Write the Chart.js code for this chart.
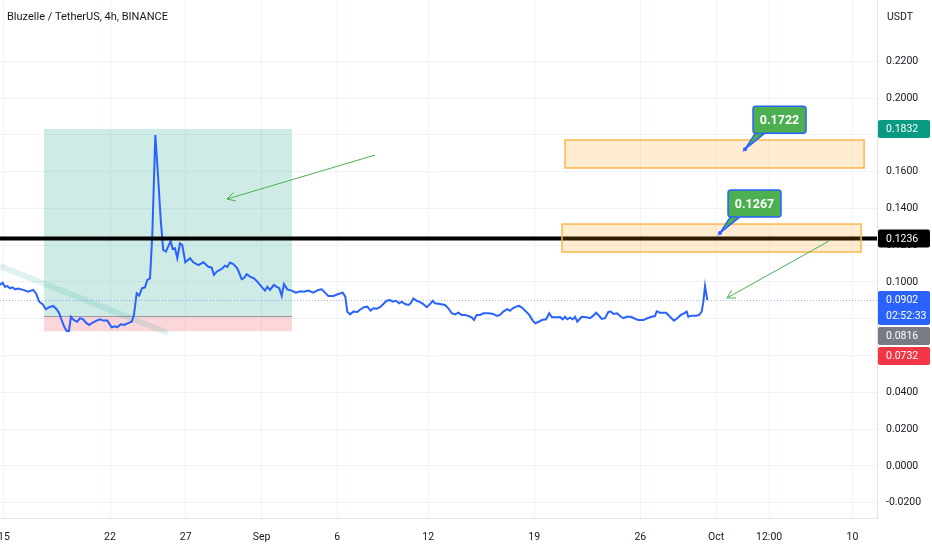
<!DOCTYPE html>
<html>
<head>
<meta charset="utf-8">
<title>Bluzelle / TetherUS, 4h, BINANCE</title>
<script src="https://cdn.jsdelivr.net/npm/chart.js@4.4.1/dist/chart.umd.min.js"></script>
<style>
  html, body { margin: 0; padding: 0; background: #ffffff; }
  #wrap { position: relative; width: 932px; height: 550px; }
</style>
</head>
<body>
<div id="wrap">
  <canvas id="priceChart" width="932" height="550"></canvas>
</div>
<script>
/* =====================================
   Data
===================================== */

// x positions are days counted from Aug 15
const dayTicks = [0, 7, 12, 17, 22, 28, 35, 42, 47, 50.5, 56];
const dayLabels = ["15", "22", "27", "Sep", "6", "12", "19", "26", "Oct", "12:00", "10"];

const priceTicks = [-0.02, 0, 0.02, 0.04, 0.06, 0.08, 0.10, 0.12, 0.14, 0.16, 0.18, 0.20, 0.22];

const priceDays = [
  -0.26, -0.09, 0.07, 0.22, 0.40, 0.57, 0.73, 0.94, 1.27, 1.60,
  1.93, 2.11, 2.33, 2.55, 2.77, 2.99, 3.25, 3.48, 3.65, 3.81,
  3.98, 4.14, 4.29, 4.42, 4.62, 4.84, 5.02, 5.23, 5.41, 5.63,
  5.85, 6.12, 6.34, 6.55, 6.82, 7.11, 7.33, 7.48, 7.70, 7.92,
  8.20, 8.43, 8.58, 8.76, 8.93, 9.11, 9.31, 9.46, 9.64, 9.79,
  9.99, 10.18, 10.34, 10.51, 10.69, 10.84, 11.00, 11.14, 11.29, 11.44,
  11.62, 11.77, 11.97, 12.28, 12.50, 12.83, 13.16, 13.49, 13.71, 13.86,
  14.04, 14.37, 14.59, 14.74, 14.92, 15.14, 15.36, 15.47, 15.69, 15.84,
  16.02, 16.24, 16.50, 16.72, 17.01, 17.23, 17.38, 17.56, 17.82, 18.00,
  18.17, 18.33, 18.48, 18.70, 18.99, 19.27, 19.54, 19.80, 20.09, 20.42,
  20.75, 20.97, 21.19, 21.41, 21.74, 22.07, 22.36, 22.53, 22.66, 22.84,
  23.06, 23.32, 23.54, 23.76, 23.98, 24.20, 24.38, 24.60, 24.82, 25.04,
  25.26, 25.48, 25.66, 25.87, 26.09, 26.25, 26.47, 26.69, 26.84, 27.02,
  27.24, 27.46, 27.68, 27.90, 28.12, 28.30, 28.45, 28.78, 29.11, 29.33,
  29.55, 29.77, 29.99, 30.21, 30.43, 30.65, 30.87, 31.02, 31.20, 31.42,
  31.64, 31.97, 32.30, 32.52, 32.74, 32.96, 33.22, 33.40, 33.58, 33.80,
  34.01, 34.24, 34.46, 34.67, 34.90, 35.07, 35.29, 35.51, 35.78, 35.99,
  36.17, 36.44, 36.70, 36.88, 37.03, 37.18, 37.36, 37.54, 37.69, 37.84,
  38.13, 38.46, 38.68, 38.90, 39.08, 39.23, 39.45, 39.67, 39.89, 40.05,
  40.22, 40.48, 40.66, 40.88, 41.10, 41.37, 41.58, 41.87, 42.20, 42.46,
  42.75, 42.97, 43.08, 43.30, 43.70, 43.96, 44.22, 44.44, 44.67, 44.88,
  45.06, 45.17, 45.39, 45.68, 45.89, 46.05, 46.16, 46.27, 46.42
];

const priceValues = [
  0.0984, 0.0996, 0.0974, 0.0978, 0.0966, 0.0971, 0.0960, 0.0964, 0.0957, 0.0947,
  0.0957, 0.0939, 0.0893, 0.0879, 0.0852, 0.0863, 0.0870, 0.0852, 0.0830, 0.0793,
  0.0757, 0.0734, 0.0734, 0.0811, 0.0793, 0.0784, 0.0803, 0.0797, 0.0779, 0.0766,
  0.0779, 0.0790, 0.0797, 0.0790, 0.0790, 0.0754, 0.0759, 0.0754, 0.0770, 0.0766,
  0.0776, 0.0784, 0.0821, 0.0939, 0.0926, 0.0966, 0.0971, 0.1011, 0.1020, 0.1255,
  0.1799, 0.1564, 0.1346, 0.1174, 0.1165, 0.1192, 0.1223, 0.1179, 0.1183, 0.1129,
  0.1210, 0.1201, 0.1107, 0.1129, 0.1107, 0.1092, 0.1107, 0.1083, 0.1078, 0.1038,
  0.1056, 0.1071, 0.1089, 0.1082, 0.1106, 0.1098, 0.1078, 0.1061, 0.1015, 0.1020,
  0.1043, 0.1029, 0.1020, 0.1002, 0.0974, 0.0953, 0.0974, 0.0957, 0.0984, 0.0974,
  0.0966, 0.0924, 0.0989, 0.0960, 0.0953, 0.0942, 0.0949, 0.0947, 0.0953, 0.0942,
  0.0957, 0.0960, 0.0942, 0.0924, 0.0924, 0.0935, 0.0942, 0.0920, 0.0839, 0.0824,
  0.0839, 0.0837, 0.0852, 0.0863, 0.0866, 0.0844, 0.0857, 0.0855, 0.0863, 0.0880,
  0.0898, 0.0902, 0.0893, 0.0898, 0.0884, 0.0893, 0.0880, 0.0875, 0.0884, 0.0911,
  0.0898, 0.0891, 0.0880, 0.0863, 0.0880, 0.0898, 0.0884, 0.0880, 0.0875, 0.0857,
  0.0830, 0.0824, 0.0833, 0.0821, 0.0821, 0.0815, 0.0808, 0.0793, 0.0821, 0.0821,
  0.0830, 0.0830, 0.0826, 0.0815, 0.0821, 0.0839, 0.0852, 0.0844, 0.0857, 0.0866,
  0.0870, 0.0857, 0.0839, 0.0821, 0.0790, 0.0776, 0.0784, 0.0793, 0.0797, 0.0830,
  0.0808, 0.0808, 0.0809, 0.0797, 0.0811, 0.0797, 0.0806, 0.0797, 0.0811, 0.0784,
  0.0811, 0.0808, 0.0803, 0.0817, 0.0833, 0.0821, 0.0799, 0.0803, 0.0837, 0.0839,
  0.0826, 0.0830, 0.0815, 0.0803, 0.0811, 0.0811, 0.0803, 0.0793, 0.0793, 0.0803,
  0.0811, 0.0815, 0.0841, 0.0833, 0.0833, 0.0811, 0.0790, 0.0803, 0.0821, 0.0830,
  0.0839, 0.0811, 0.0817, 0.0817, 0.0821, 0.0839, 0.0893, 0.0978, 0.0902
];

// long position tool: target / entry / stop
const tradeDays = [2.64, 19.01];
const tradeLevels = [0.1832, 0.0816, 0.0732];

const supportLevel = 0.1236;
const lastPrice = 0.0902;

// orange target zones [top, bottom]
const zoneDays = [[37.03, 56.77], [36.83, 56.57]];
const zonePrices = [[0.1772, 0.1620], [0.1315, 0.1163]];

// callouts
const calloutDays = [48.91, 47.26];
const calloutPrices = [0.1722, 0.1267];

// green arrows [day, price]
const arrowFrom = [[24.49, 0.1690], [54.46, 0.1223]];
const arrowTo = [[14.72, 0.1451], [47.72, 0.0913]];

// faded trend line
const fadedTrend = [[-0.26, 0.1087], [10.83, 0.0723]];

// price badges on the right axis
const badgePrices = [0.1832, 0.1236, 0.0902, 0.0816, 0.0732];
const badgeExtra = ["", "", "02:52:33", "", ""];

/* =====================================
   Page Initialization
===================================== */
document.addEventListener("DOMContentLoaded", () => {
  drawPriceChart();
});

/* =====================================
   Drawing helpers
===================================== */
function drawArrow(ctx, x1, y1, x2, y2) {
  const angle = Math.atan2(y2 - y1, x2 - x1);
  const head = 9;

  ctx.beginPath();
  ctx.moveTo(x1, y1);
  ctx.lineTo(x2, y2);
  ctx.moveTo(x2 - head * Math.cos(angle - 0.5), y2 - head * Math.sin(angle - 0.5));
  ctx.lineTo(x2, y2);
  ctx.lineTo(x2 - head * Math.cos(angle + 0.5), y2 - head * Math.sin(angle + 0.5));
  ctx.stroke();
}

function roundRect(ctx, x, y, w, h, r) {
  ctx.beginPath();
  ctx.moveTo(x + r, y);
  ctx.lineTo(x + w - r, y);
  ctx.quadraticCurveTo(x + w, y, x + w, y + r);
  ctx.lineTo(x + w, y + h - r);
  ctx.quadraticCurveTo(x + w, y + h, x + w - r, y + h);
  ctx.lineTo(x + r, y + h);
  ctx.quadraticCurveTo(x, y + h, x, y + h - r);
  ctx.lineTo(x, y + r);
  ctx.quadraticCurveTo(x, y, x + r, y);
  ctx.closePath();
}

/* =====================================
   Overlay plugin (zones, lines, labels)
===================================== */
const overlayPlugin = {

  id: "overlays",

  beforeDatasetsDraw(chart) {
    const { ctx, chartArea, scales } = chart;
    const xs = scales.x;
    const ys = scales.y;

    ctx.save();

    const left = xs.getPixelForValue(tradeDays[0]);
    const right = xs.getPixelForValue(tradeDays[1]);
    const yTarget = ys.getPixelForValue(tradeLevels[0]);
    const yEntry = ys.getPixelForValue(tradeLevels[1]);
    const yStop = ys.getPixelForValue(tradeLevels[2]);

    ctx.fillStyle = "rgba(8, 153, 129, 0.2)";
    ctx.fillRect(left, yTarget, right - left, yEntry - yTarget);

    ctx.fillStyle = "rgba(242, 54, 69, 0.2)";
    ctx.fillRect(left, yEntry, right - left, yStop - yEntry);

    ctx.strokeStyle = "#9598a1";
    ctx.lineWidth = 1;
    ctx.beginPath();
    ctx.moveTo(left, Math.round(yEntry) + 0.5);
    ctx.lineTo(right, Math.round(yEntry) + 0.5);
    ctx.stroke();

    // faded trend line
    ctx.strokeStyle = "rgba(8, 153, 129, 0.13)";
    ctx.lineWidth = 6;
    ctx.beginPath();
    ctx.moveTo(xs.getPixelForValue(fadedTrend[0][0]), ys.getPixelForValue(fadedTrend[0][1]));
    ctx.lineTo(xs.getPixelForValue(fadedTrend[1][0]), ys.getPixelForValue(fadedTrend[1][1]));
    ctx.stroke();

    // last price dotted line
    const yLast = Math.round(ys.getPixelForValue(lastPrice)) + 0.5;
    ctx.strokeStyle = "rgba(41, 98, 255, 0.45)";
    ctx.lineWidth = 1;
    ctx.setLineDash([1, 2]);
    ctx.beginPath();
    ctx.moveTo(chartArea.left, yLast);
    ctx.lineTo(chartArea.right, yLast);
    ctx.stroke();
    ctx.setLineDash([]);

    ctx.restore();
  },

  afterDatasetsDraw(chart) {
    const { ctx, chartArea, scales } = chart;
    const xs = scales.x;
    const ys = scales.y;

    ctx.save();

    // black horizontal level
    const ySupport = ys.getPixelForValue(supportLevel);
    ctx.strokeStyle = "#000000";
    ctx.lineWidth = 4;
    ctx.beginPath();
    ctx.moveTo(chartArea.left, ySupport);
    ctx.lineTo(chartArea.right, ySupport);
    ctx.stroke();

    // orange zones
    zoneDays.forEach((span, i) => {
      const x1 = xs.getPixelForValue(span[0]);
      const x2 = xs.getPixelForValue(span[1]);
      const y1 = ys.getPixelForValue(zonePrices[i][0]);
      const y2 = ys.getPixelForValue(zonePrices[i][1]);

      ctx.fillStyle = "rgba(255, 152, 0, 0.18)";
      ctx.fillRect(x1, y1, x2 - x1, y2 - y1);
      ctx.strokeStyle = "#ffb74d";
      ctx.lineWidth = 1.5;
      ctx.strokeRect(x1, y1, x2 - x1, y2 - y1);
    });

    // green arrows
    ctx.strokeStyle = "#4caf50";
    ctx.lineWidth = 1;
    arrowFrom.forEach((from, i) => {
      drawArrow(
        ctx,
        xs.getPixelForValue(from[0]), ys.getPixelForValue(from[1]),
        xs.getPixelForValue(arrowTo[i][0]), ys.getPixelForValue(arrowTo[i][1])
      );
    });

    // callouts
    calloutDays.forEach((day, i) => {
      const ax = xs.getPixelForValue(day);
      const ay = ys.getPixelForValue(calloutPrices[i]);
      const bx = ax + 8;
      const by = ay - 43;
      const bw = 53;
      const bh = 27;

      ctx.fillStyle = "#4caf50";
      ctx.strokeStyle = "#2962ff";
      ctx.lineWidth = 1.5;

      // tail
      ctx.beginPath();
      ctx.moveTo(bx + 3, by + bh - 1);
      ctx.lineTo(ax, ay);
      ctx.lineTo(bx + 13, by + bh - 1);
      ctx.closePath();
      ctx.fill();
      ctx.stroke();

      roundRect(ctx, bx, by, bw, bh, 3);
      ctx.fill();
      ctx.stroke();

      // cover tail joint
      ctx.fillRect(bx + 3, by + bh - 3, 9, 2.2);

      ctx.fillStyle = "#2962ff";
      ctx.beginPath();
      ctx.arc(ax, ay, 2, 0, Math.PI * 2);
      ctx.fill();

      ctx.fillStyle = "#ffffff";
      ctx.font = "bold 12.5px Roboto";
      ctx.textAlign = "center";
      ctx.textBaseline = "middle";
      ctx.fillText(calloutPrices[i].toFixed(4), bx + bw / 2, by + bh / 2 + 1);
    });

    ctx.restore();
  },

  afterDraw(chart) {
    const { ctx, chartArea, scales, width } = chart;
    const ys = scales.y;

    ctx.save();

    // title
    ctx.fillStyle = "#131722";
    ctx.font = "11px Roboto";
    ctx.textAlign = "left";
    ctx.textBaseline = "middle";
    ctx.fillText("Bluzelle / TetherUS, 4h, BINANCE", 7, 17);

    ctx.font = "10.5px Roboto";
    ctx.fillText("USDT", chartArea.right + 10, 17);

    // price badges
    const colors = ["#089981", "#000000", "#2962ff", "#787b86", "#f23645"];
    let lastBottom = -Infinity;

    badgePrices.forEach((price, i) => {
      const yv = ys.getPixelForValue(price);
      const lines = badgeExtra[i] ? 2 : 1;
      const h = lines === 2 ? 34 : 18;
      let top = yv - 9;
      if (top < lastBottom) top = lastBottom + 2;

      ctx.fillStyle = colors[i];
      roundRect(ctx, chartArea.right + 1, top, width - chartArea.right - 3, h, 2);
      ctx.fill();

      ctx.fillStyle = "#ffffff";
      ctx.font = "10.5px Roboto";
      ctx.textAlign = "left";
      ctx.textBaseline = "middle";
      ctx.fillText(price.toFixed(4), chartArea.right + 9, top + 9.5);
      if (badgeExtra[i]) {
        ctx.fillText(badgeExtra[i], chartArea.right + 9, top + 25.5);
      }

      lastBottom = top + h;
    });

    ctx.restore();
  }
};

/* =====================================
   Price Chart
===================================== */
function drawPriceChart() {

  const canvas = document.getElementById("priceChart");

  if (!canvas || typeof Chart === "undefined") return;

  const points = priceDays.map((d, i) => ({ x: d, y: priceValues[i] }));

  new Chart(canvas, {

    type: "line",

    data: {
      datasets: [
        {
          label: "BLZUSDT",
          data: points,
          borderColor: "#2962ff",
          borderWidth: 2,
          pointRadius: 0,
          tension: 0,
          fill: false
        }
      ]
    },

    options: {

      responsive: false,
      animation: false,

      layout: {
        autoPadding: false,
        padding: 0
      },

      plugins: {
        legend: { display: false },
        tooltip: { enabled: false }
      },

      scales: {

        x: {
          type: "linear",
          min: -0.26,
          max: 57.62,
          afterFit: (scale) => {
            scale.height = 32;
            scale.paddingLeft = 0;
            scale.paddingRight = 0;
          },
          afterBuildTicks: (scale) => {
            scale.ticks = dayTicks.map((v) => ({ value: v }));
          },
          ticks: {
            autoSkip: false,
            maxRotation: 0,
            padding: 13,
            color: "#131722",
            font: { size: 10.5, family: "Roboto" },
            callback: (value) => {
              const i = dayTicks.indexOf(value);
              return i >= 0 ? dayLabels[i] : "";
            }
          },
          grid: {
            color: "#f0f3fa",
            drawTicks: false
          },
          border: {
            color: "#e0e3eb"
          }
        },

        y: {
          position: "right",
          min: -0.0283,
          max: 0.2533,
          afterFit: (scale) => {
            scale.width = 55;
            scale.paddingTop = 0;
            scale.paddingBottom = 0;
          },
          afterBuildTicks: (scale) => {
            scale.ticks = priceTicks.map((v) => ({ value: v }));
          },
          ticks: {
            padding: 9,
            color: "#131722",
            font: { size: 10.5, family: "Roboto" },
            callback: (value) => Number(value).toFixed(4)
          },
          grid: {
            color: "#f0f3fa",
            drawTicks: false
          },
          border: {
            color: "#e0e3eb"
          }
        }
      }
    },

    plugins: [overlayPlugin]
  });
}
</script>
</body>
</html>
